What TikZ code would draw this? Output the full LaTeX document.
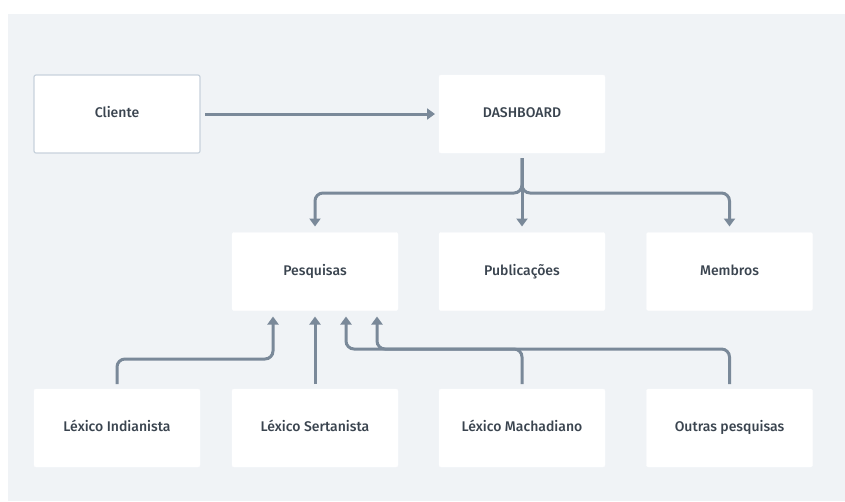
\documentclass[tikz,border=0pt]{standalone}
\usepackage{fontspec}
\setmainfont{Fira Sans}[UprightFont=* Medium]
\usepackage{xcolor}
\definecolor{pagebg}{RGB}{240, 243, 246}
\definecolor{boxframe}{RGB}{200, 210, 220}
\definecolor{linkgray}{RGB}{122, 137, 153}
\definecolor{labelgray}{RGB}{58, 68, 79}
\usepackage{tikz}
\usetikzlibrary{
    arrows.meta,
    positioning,
    calc
}
\tikzstyle{card} = [
    rectangle,
    rounded corners=2pt,
    draw=white,
    fill=white,
    text=labelgray,
    text centered,
    text height=10pt,
    text depth=3pt,
    minimum height=78pt,
    minimum width=166pt,
    outer sep=0pt,
    font=\fontsize{14}{16}\selectfont
]
\tikzstyle{client} = [
    card,
    draw=boxframe,
    line width=1.2pt
]
\tikzstyle{link} = [
    -{Triangle[width=11pt,length=8pt]},
    draw=linkgray,
    line width=3pt,
    rounded corners=8pt
]

\begin{document}
\begin{tikzpicture}[x=1pt, y=-1pt]
    % Page background
    \fill[white] (0,0) rectangle (845,501);
    \fill[pagebg] (8,14) rectangle (845,501);
    \useasboundingbox (0,0) rectangle (845,501);

    % Top row
    \node[client] (cliente) at (117,114) {Cliente};
    \node[card] (dashboard) at (522,114) {DASHBOARD};

    % Middle row
    \node[card] (pesquisas) at (315,271.5) {Pesquisas};
    \node[card] (publicacoes) at (522,271.5) {Publicações};
    \node[card] (membros) at (729.5,271.5) {Membros};

    % Bottom row
    \node[card] (indianista) at (117,428) {Léxico Indianista};
    \node[card] (sertanista) at (315,428) {Léxico Sertanista};
    \node[card] (machadiano) at (522,428) {Léxico Machadiano};
    \node[card] (outras) at (729.5,428) {Outras pesquisas};

    % Bus levels and entry points
    \coordinate (topbus) at (0,193);
    \coordinate (lowbus) at (0,359);
    \coordinate (midbus) at (0,349);
    \coordinate (inA) at ([xshift=-42pt,yshift=-6pt]pesquisas.south);
    \coordinate (inB) at ([yshift=-6pt]pesquisas.south);
    \coordinate (inC) at ([xshift=31pt,yshift=-6pt]pesquisas.south);
    \coordinate (inD) at ([xshift=62pt,yshift=-6pt]pesquisas.south);

    % Cliente to dashboard
    \draw[link] ([xshift=5pt]cliente.east) -- ([xshift=-4pt]dashboard.west);

    % Dashboard to sections
    \draw[link] ([yshift=-5pt]dashboard.south) |- (pesquisas.north |- topbus) -- ([yshift=6pt]pesquisas.north);
    \draw[link] ([yshift=-5pt]dashboard.south) -- ([yshift=6pt]publicacoes.north);
    \draw[link] ([yshift=-5pt]dashboard.south) |- (membros.north |- topbus) -- ([yshift=6pt]membros.north);

    % Research lines to Pesquisas
    \draw[link] ([yshift=5pt]indianista.north) |- (inA |- lowbus) -- (inA);
    \draw[link] ([yshift=5pt]sertanista.north) -- (inB);
    \draw[link] ([yshift=5pt]machadiano.north) |- (inC |- midbus) -- (inC);
    \draw[link] ([yshift=5pt]outras.north) |- (inD |- midbus) -- (inD);

\end{tikzpicture}
\end{document}
